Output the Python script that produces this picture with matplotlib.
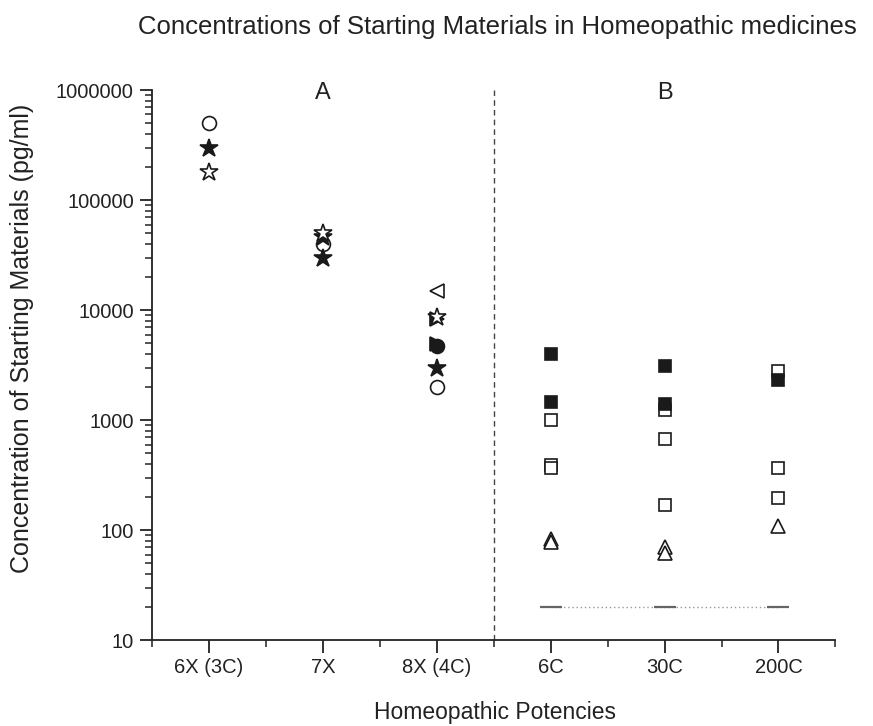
import matplotlib.pyplot as plt
from matplotlib.ticker import LogLocator, NullFormatter, FixedLocator

plt.rcParams['font.family'] = ['Liberation Sans', 'DejaVu Sans']

potencies = ['6X (3C)', '7X', '8X (4C)', '6C', '30C', '200C']

# values (pg/ml)
open_circle_x = ['6X (3C)', '7X', '8X (4C)']
open_circle_y = [500000, 40000, 2000]

filled_star_x = ['6X (3C)', '7X', '7X', '8X (4C)']
filled_star_y = [300000, 46000, 30000, 3000]

open_star_x = ['6X (3C)', '7X', '8X (4C)']
open_star_y = [180000, 50000, 8600]

open_left_tri_x = ['8X (4C)']
open_left_tri_y = [15000]

filled_right_tri_x = ['8X (4C)', '8X (4C)']
filled_right_tri_y = [8300, 4900]

filled_circle_x = ['8X (4C)']
filled_circle_y = [4750]

open_square_x = ['6C', '6C', '6C', '30C', '30C', '30C', '200C', '200C', '200C']
open_square_y = [1000, 390, 370, 1250, 680, 170, 2800, 365, 195]

filled_square_x = ['6C', '6C', '30C', '30C', '200C']
filled_square_y = [4000, 1450, 3100, 1400, 2300]

open_tri_x = ['6C', '6C', '30C', '30C', '200C']
open_tri_y = [84, 78, 70, 62, 110]

limit_x = ['6C', '30C', '200C']
limit_y = [20, 20, 20]


def pos(labels):
    return [potencies.index(p) + 1 for p in labels]


fig = plt.figure(figsize=(8.73, 7.26), dpi=100)
ax = fig.add_axes([0.174, 0.118, 0.783, 0.758])

ink = '#1a1a1a'
txt = '#222222'
ms = 10
mew = 1.2

# detection limit
ax.plot(pos(limit_x), limit_y, linestyle=(0, (1, 2)), color='#999999', lw=1.0, zorder=1)
ax.plot(pos(limit_x), limit_y, linestyle='none', marker='_', ms=16, mew=1.6, color='#666666', zorder=2)

ax.plot(pos(open_tri_x), open_tri_y, 'none', marker='^', ms=10.5, mfc='white', mec=ink, mew=mew)
ax.plot(pos(open_square_x), open_square_y, 'none', marker='s', ms=9, mfc='white', mec=ink, mew=mew)
ax.plot(pos(filled_square_x), filled_square_y, 'none', marker='s', ms=9, mfc=ink, mec=ink, mew=mew)

ax.plot(pos(filled_right_tri_x), filled_right_tri_y, 'none', marker='>', ms=ms, mfc=ink, mec=ink, mew=mew)
ax.plot(pos(filled_circle_x), filled_circle_y, 'none', marker='o', ms=ms, mfc=ink, mec=ink, mew=mew)
ax.plot(pos(open_left_tri_x), open_left_tri_y, 'none', marker='<', ms=ms, mfc='white', mec=ink, mew=mew)
ax.plot(pos(open_circle_x), open_circle_y, 'none', marker='o', ms=ms, mfc='white', mec=ink, mew=mew)
ax.plot(pos(filled_star_x), filled_star_y, 'none', marker='*', ms=13.5, mfc=ink, mec=ink, mew=mew)
ax.plot(pos(open_star_x), open_star_y, 'none', marker='*', ms=13.5, mfc='white', mec=ink, mew=mew)

# separator between panels A and B
ax.axvline(3.5, color='#444444', lw=1.0, linestyle=(0, (4, 3)))
ax.text(2, 9.3e5, 'A', ha='center', va='center', fontsize=17, color=txt)
ax.text(5, 9.3e5, 'B', ha='center', va='center', fontsize=17, color=txt)

ax.set_yscale('log')
ax.set_ylim(10, 1e6)
ax.set_xlim(0.5, 6.5)
ax.set_xticks(range(1, 7))
ax.set_xticklabels(potencies)
ax.xaxis.set_minor_locator(FixedLocator([0.5, 1.5, 2.5, 3.5, 4.5, 5.5, 6.5]))
ax.set_yticks([10, 100, 1000, 10000, 100000, 1000000])
ax.set_yticklabels(['10', '100', '1000', '10000', '100000', '1000000'])
ax.yaxis.set_minor_locator(LogLocator(base=10, subs=range(2, 10)))
ax.yaxis.set_minor_formatter(NullFormatter())

for side in ['top', 'right']:
    ax.spines[side].set_visible(False)
for side in ['left', 'bottom']:
    ax.spines[side].set_linewidth(1.3)
    ax.spines[side].set_color(txt)

ax.tick_params(which='major', direction='out', length=9, width=1.3, labelsize=14.5,
               colors=txt, pad=4)
ax.tick_params(which='minor', direction='out', length=5, width=1.1, colors=txt)

fig.text(22 / 873, 1 - 338 / 726, 'Concentration of Starting Materials (pg/ml)', rotation=90,
         ha='center', va='center', fontsize=18, color=txt)
fig.text(495 / 873, 1 - 712 / 726, 'Homeopathic Potencies', ha='center', va='center',
         fontsize=16.5, color=txt)
fig.text(497 / 873, 1 - 27 / 726, 'Concentrations of Starting Materials in Homeopathic medicines',
         ha='center', va='center', fontsize=18.5, color=txt)

fig.savefig('out.png', dpi=100)
